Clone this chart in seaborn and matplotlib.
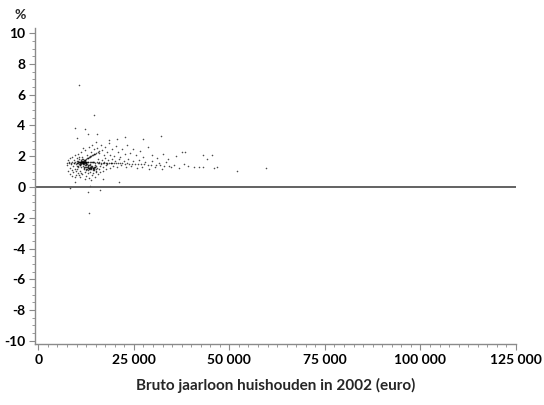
import numpy as np
import pandas as pd
import matplotlib
matplotlib.use('Agg')
import matplotlib.pyplot as plt
import seaborn as sns
from matplotlib.ticker import MultipleLocator, FuncFormatter

# income in thousands of euro, change in %
band_x = [7.6, 8.1, 8.5, 8.9, 9.3, 9.6, 10.0, 10.3, 10.7, 11.0, 11.3, 11.6, 11.9, 12.2, 12.5,
          12.8, 13.1, 13.4, 13.7, 14.0, 14.3, 14.6, 14.9, 15.3, 15.6, 16.0, 16.4, 16.8, 17.2,
          17.6, 18.0, 18.5, 19.0, 19.4, 19.9, 20.4, 20.9, 21.4, 22.0, 22.6, 23.2, 23.8, 24.5,
          25.2, 26.0, 26.8, 27.7, 28.6, 29.6, 30.7, 31.8, 33.0, 34.3]
band_y = [1.57, 1.59, 1.56, 1.60, 1.58, 1.61, 1.59, 1.62, 1.60, 1.63, 1.61, 1.62, 1.64, 1.61,
          1.63, 1.62, 1.60, 1.63, 1.61, 1.62, 1.60, 1.61, 1.59, 1.60, 1.58, 1.60, 1.59, 1.57,
          1.59, 1.58, 1.56, 1.58, 1.55, 1.57, 1.56, 1.54, 1.56, 1.53, 1.55, 1.52, 1.54, 1.51,
          1.52, 1.50, 1.51, 1.48, 1.47, 1.45, 1.44, 1.42, 1.40, 1.38, 1.35]

clus_a_x = [10.2, 10.5, 10.8, 11.0, 11.2, 11.4, 11.6, 11.8, 12.0, 12.2, 12.4, 12.6,
            10.4, 10.9, 11.1, 11.3, 11.5, 11.7, 11.9, 12.1, 12.3, 12.8,
            10.1, 10.6, 11.0, 11.4, 11.8, 12.2, 12.6, 13.0,
            9.8, 10.3, 10.7, 11.2, 11.6, 12.0, 12.5, 13.2,
            10.9, 11.3, 11.7, 12.1, 11.5, 11.9, 12.4, 10.6, 11.1, 11.5, 12.0, 11.2, 11.8]
clus_a_y = [1.55, 1.58, 1.62, 1.50, 1.66, 1.60, 1.53, 1.64, 1.57, 1.61, 1.48, 1.55,
            1.70, 1.45, 1.74, 1.52, 1.68, 1.47, 1.72, 1.44, 1.69, 1.50,
            1.38, 1.79, 1.40, 1.82, 1.36, 1.76, 1.42, 1.60,
            1.50, 1.35, 1.65, 1.30, 1.85, 1.33, 1.63, 1.45,
            1.57, 1.62, 1.59, 1.54, 1.56, 1.63, 1.58, 1.52, 1.60, 1.64, 1.49, 1.58, 1.55]

clus_b_x = [12.0, 12.4, 12.8, 13.1, 13.4, 13.7, 14.0, 14.3, 14.6, 14.9, 15.2,
            12.2, 12.6, 13.0, 13.3, 13.6, 13.9, 14.2, 14.5, 14.8,
            12.5, 12.9, 13.2, 13.5, 13.8, 14.1, 14.4,
            13.0, 13.4, 13.8, 14.2, 14.7, 15.4, 12.7, 13.3, 13.9, 14.6, 11.9, 15.0]
clus_b_y = [1.22, 1.28, 1.19, 1.25, 1.30, 1.21, 1.27, 1.18, 1.24, 1.29, 1.20,
            1.33, 1.15, 1.31, 1.23, 1.17, 1.34, 1.26, 1.12, 1.28,
            1.10, 1.36, 1.26, 1.24, 1.14, 1.38, 1.22,
            1.08, 1.40, 1.30, 1.11, 1.16, 1.25, 1.27, 1.20, 1.23, 1.33, 1.18, 1.07]

diag_x = [11.6, 12.0, 12.4, 12.7, 13.0, 13.3, 13.6, 13.9, 14.2, 14.5, 14.8, 15.2, 15.6, 16.0,
          12.2, 12.9, 13.5, 14.1, 14.7]
diag_y = [1.70, 1.76, 1.82, 1.86, 1.90, 1.95, 1.99, 2.03, 2.08, 2.12, 2.17, 2.23, 2.30, 2.36,
          1.78, 1.89, 1.97, 2.06, 2.15]

cloud_x = [7.6, 7.9, 8.1, 8.3, 8.4, 8.6, 8.7, 8.9, 9.0, 9.2, 9.3, 9.5, 9.6, 9.8, 9.9, 10.1,
           10.3, 10.4, 10.6, 10.8, 11.0, 11.2, 8.2, 8.8, 9.4, 9.7, 10.2, 10.5, 7.8,
           11.5, 12.1, 12.5, 12.9, 13.3, 13.6, 14.0, 14.4, 14.8, 15.2, 15.7, 16.2, 16.8, 13.8, 12.3,
           11.3, 11.8, 12.3, 12.7, 13.2, 13.7, 14.1, 14.6, 15.0, 15.4, 15.9, 16.3, 16.7, 17.1,
           17.5, 17.9, 18.4, 18.8, 19.3, 19.8, 20.3, 20.8, 21.4, 22.0, 22.6, 23.3, 24.0, 24.8,
           25.6, 26.5, 27.4, 28.6, 29.8, 31.0, 32.5, 34.0, 36.0, 37.7, 38.3,
           15.5, 16.1, 16.6, 17.0, 17.4, 17.8, 18.3, 18.7, 19.2, 19.6, 20.1, 20.6, 21.1, 21.7,
           22.3, 22.9, 23.5, 24.2, 24.9, 25.7, 26.4, 27.2, 28.0, 28.9, 29.7, 30.6, 31.5, 32.4,
           33.4, 34.6, 35.5, 36.8, 38.0, 39.3, 40.8, 42.0, 43.2, 44.2, 45.5, 43.0, 46.0, 46.8,
           10.0, 10.6, 11.4, 12.9, 13.5, 14.3, 14.9, 15.8, 16.5, 17.3, 18.1, 19.0, 15.1, 16.0, 17.6]
cloud_y = [1.40, 1.05, 1.62, 0.85, 1.25, 1.48, 0.72, 1.10, 1.35, 0.95, 1.55, 0.62, 1.20, 1.02,
           0.80, 1.15, 0.90, 1.28, 0.75, 1.05, 0.68, 0.92, 1.90, 1.95, 1.78, 2.05, 1.88, 2.15, 1.75,
           0.85, 0.95, 0.70, 0.88, 0.58, 0.98, 0.80, 0.92, 0.65, 1.00, 0.85, 0.95, 1.05, 0.45, 0.50,
           2.25, 2.55, 2.40, 2.05, 2.60, 2.30, 2.75, 2.45, 2.90, 2.55, 2.20, 2.70, 2.40, 2.05,
           2.60, 2.25, 2.85, 2.10, 2.45, 2.00, 2.65, 2.30, 1.95, 2.50, 2.15, 2.75, 2.20, 2.45,
           2.05, 2.35, 1.95, 2.60, 2.10, 1.90, 2.15, 1.85, 2.00, 2.30, 2.25,
           1.85, 1.35, 1.78, 1.30, 1.90, 1.40, 1.75, 1.25, 1.85, 1.38, 1.72, 1.30, 1.82, 1.42,
           1.70, 1.28, 1.80, 1.35, 1.68, 1.25, 1.75, 1.32, 1.62, 1.20, 1.70, 1.28, 1.55, 1.18,
           1.60, 1.30, 1.45, 1.25, 1.50, 1.35, 1.30, 1.28, 1.32, 1.85, 2.08, 2.06, 1.26, 1.28,
           1.70, 1.92, 1.95, 1.45, 1.48, 1.65, 1.45, 1.55, 1.50, 1.62, 1.50, 1.58, 1.35, 1.20, 1.15]

outlier_x = [10.75, 14.5, 9.7, 12.1, 10.1, 12.9, 15.4, 32.0, 22.8, 27.3, 18.5, 20.5, 52.0, 59.7,
             8.2, 12.9, 16.2, 13.2, 21.0, 13.4, 9.5, 17.0]
outlier_y = [6.65, 4.67, 3.86, 3.80, 3.20, 3.43, 3.47, 3.30, 3.28, 3.10, 3.05, 3.15, 1.04, 1.22,
             -0.04, -0.30, -0.22, -1.67, 0.33, 0.07, 0.30, 0.55]

xs = band_x + clus_a_x + clus_b_x + diag_x + cloud_x + outlier_x
ys = band_y + clus_a_y + clus_b_y + diag_y + cloud_y + outlier_y
df = pd.DataFrame({'inkomen': np.array(xs) * 1000, 'pct': ys})

sns.set_theme(style='ticks')
plt.rcParams['font.family'] = ['Lato', 'DejaVu Sans']
plt.rcParams['axes.unicode_minus'] = False

fig = plt.figure(figsize=(5.44, 4.05), dpi=100)
ax = fig.add_axes([35 / 544, 1 - 344 / 405, 481 / 544, 316 / 405])

sns.scatterplot(data=df, x='inkomen', y='pct', ax=ax, s=1.3, color='black',
                linewidth=0, alpha=0.7, legend=False)
ax.axhline(0, color='#555555', lw=1.3, zorder=1)

ax.set_xlim(-864, 125000)
ax.set_ylim(-10.21, 10.34)
ax.xaxis.set_major_locator(MultipleLocator(25000))
ax.xaxis.set_minor_locator(MultipleLocator(2500))
ax.yaxis.set_major_locator(MultipleLocator(2))
ax.yaxis.set_minor_locator(MultipleLocator(0.5))
ax.xaxis.set_major_formatter(FuncFormatter(lambda v, p: f"{v:,.0f}".replace(',', ' ')))
ax.yaxis.set_major_formatter(FuncFormatter(lambda v, p: f"{v:.0f}"))

for s in ['top', 'right']:
    ax.spines[s].set_visible(False)
for s in ['left', 'bottom']:
    ax.spines[s].set_color('#8a8a8a')
    ax.spines[s].set_linewidth(1)

ax.tick_params(which='major', length=4, width=0.8, color='#8a8a8a', pad=3,
               labelsize=10, labelcolor='black')
ax.tick_params(which='minor', length=2, width=0.6, color='#8a8a8a')
for lab in ax.get_xticklabels() + ax.get_yticklabels():
    lab.set_fontweight('bold')

ax.set_xlabel('Bruto jaarloon huishouden in 2002 (euro)', fontsize=11, fontweight='bold',
              labelpad=9)
ax.set_ylabel('')
fig.text(20 / 544, 1 - 15 / 405, '%', ha='center', va='center', fontsize=10, fontweight='bold')

fig.savefig('out.png', dpi=100)
